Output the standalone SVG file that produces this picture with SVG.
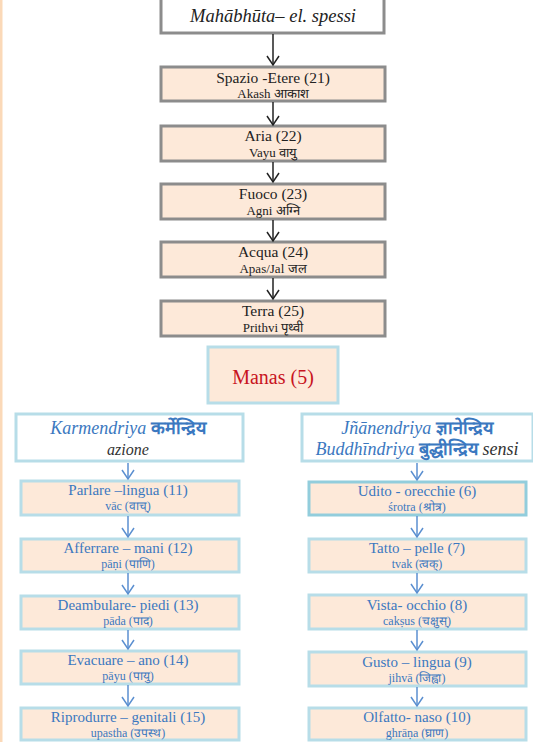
<svg xmlns="http://www.w3.org/2000/svg" width="533" height="742" viewBox="0 0 533 742">
<style>
text{font-family:"Liberation Serif","Times New Roman","DejaVu Serif",serif;text-anchor:middle}
.gbox{fill:#fde9d9;stroke:#8c8c8c;stroke-width:3}
.wbox{fill:#ffffff;stroke:#8c8c8c;stroke-width:3}
.bbox{fill:#fde9d9;stroke:#b7dde8;stroke-width:3}
.bwbox{fill:#ffffff;stroke:#b7dde8;stroke-width:3}
.t1{font-size:15.5px;fill:#222}
.t2{font-size:13px;fill:#222}
.b1{font-size:15px;fill:#3b78c0}
.b2{font-size:12px;fill:#3b78c0}
.ka{stroke:#222;stroke-width:1.5;fill:none}
.ba{stroke:#5b8fd0;stroke-width:1.5;fill:none}
</style>
<defs>
<marker id="mk" markerWidth="14" markerHeight="14" refX="11" refY="7" orient="auto" markerUnits="userSpaceOnUse" viewBox="0 0 14 14">
<path d="M2,1 L11,7 L2,13" fill="none" stroke="#222" stroke-width="1.5"/>
</marker>
<marker id="mb" markerWidth="14" markerHeight="14" refX="11" refY="7" orient="auto" markerUnits="userSpaceOnUse" viewBox="0 0 14 14">
<path d="M2,1 L11,7 L2,13" fill="none" stroke="#5b8fd0" stroke-width="1.5"/>
</marker>
</defs>
<rect x="0" y="0" width="533" height="742" fill="#ffffff"/>
<rect x="0" y="0" width="2.5" height="742" fill="#fbd9b8"/>
<g id="mahabhuta">
<rect class="wbox" x="161" y="-2" width="223" height="35"/>
<text x="273" y="22" style="font-size:18.5px;font-style:italic;fill:#222">Mahābhūta– el. spessi</text>
</g>
<g id="spazio">
<rect class="gbox" x="161" y="67" width="224" height="34"/>
<text class="t1" x="273" y="83">Spazio -Etere (21)</text>
<text class="t2" x="273" y="98">Akash आकाश</text>
</g>
<g id="aria">
<rect class="gbox" x="161" y="126" width="224" height="35"/>
<text class="t1" x="273" y="141">Aria  (22)</text>
<text class="t2" x="273" y="157">Vayu वायु</text>
</g>
<g id="fuoco">
<rect class="gbox" x="161" y="184" width="224" height="35"/>
<text class="t1" x="273" y="199">Fuoco (23)</text>
<text class="t2" x="273" y="215">Agni अग्नि</text>
</g>
<g id="acqua">
<rect class="gbox" x="161" y="242" width="224" height="35"/>
<text class="t1" x="273" y="257">Acqua (24)</text>
<text class="t2" x="273" y="273">Apas/Jal  जल</text>
</g>
<g id="terra">
<rect class="gbox" x="161" y="301" width="224" height="35"/>
<text class="t1" x="273" y="316">Terra (25)</text>
<text class="t2" x="273" y="332">Prithvi  पृथ्वी</text>
</g>
<g id="manas">
<rect class="bbox" x="208" y="347" width="130" height="56"/>
<text x="273" y="384" style="font-size:20px;fill:#c8141e">Manas (5)</text>
</g>
<g id="karmendriya">
<rect class="bwbox" x="16" y="414" width="227" height="47"/>
<text x="128" y="434" style="font-size:18px;fill:#3b78c0"><tspan font-style="italic">Karmendriya</tspan> <tspan font-weight="bold">कर्मेन्द्रिय</tspan></text>
<text x="128" y="455" style="font-size:16px;font-style:italic;fill:#333">azione</text>
</g>
<g id="jnanendriya">
<rect class="bwbox" x="302" y="414" width="231" height="47"/>
<text x="417" y="434" style="font-size:18px;fill:#3b78c0"><tspan font-style="italic">Jñānendriya</tspan> <tspan font-weight="bold">ज्ञानेन्द्रिय</tspan></text>
<text x="417" y="455" style="font-size:18px;fill:#3b78c0"><tspan font-style="italic">Buddhīndriya</tspan> <tspan font-weight="bold">बुद्धीन्द्रिय</tspan> <tspan font-style="italic" fill="#333">sensi</tspan></text>
</g>
<g id="parlare">
<rect class="bbox" x="21" y="481" width="218" height="34"/>
<text class="b1" x="128" y="495">Parlare –lingua  (11)</text>
<text class="b2" x="128" y="510">vāc (वाच्)</text>
</g>
<g id="afferrare">
<rect class="bbox" x="21" y="539" width="218" height="33"/>
<text class="b1" x="128" y="553">Afferrare – mani (12)</text>
<text class="b2" x="128" y="568">pāṇi (पाणि)</text>
</g>
<g id="deambulare">
<rect class="bbox" x="21" y="596" width="218" height="33"/>
<text class="b1" x="128" y="610">Deambulare-  piedi (13)</text>
<text class="b2" x="128" y="625">pāda (पाद)</text>
</g>
<g id="evacuare">
<rect class="bbox" x="21" y="651" width="218" height="33"/>
<text class="b1" x="128" y="665">Evacuare – ano (14)</text>
<text class="b2" x="128" y="680">pāyu (पायु)</text>
</g>
<g id="riprodurre">
<rect class="bbox" x="21" y="708" width="218" height="32"/>
<text class="b1" x="128" y="722">Riprodurre – genitali  (15)</text>
<text class="b2" x="128" y="737">upastha (उपस्थ)</text>
</g>
<g id="udito">
<rect x="309" y="482" width="217" height="33" fill="#fde9d9" stroke="#92cddc" stroke-width="3"/>
<text class="b1" x="417" y="496">Udito - orecchie (6)</text>
<text class="b2" x="417" y="511">śrotra (श्रोत्र)</text>
</g>
<g id="tatto">
<rect class="bbox" x="309" y="539" width="217" height="33"/>
<text class="b1" x="417" y="553">Tatto – pelle  (7)</text>
<text class="b2" x="417" y="568">tvak (त्वक्)</text>
</g>
<g id="vista">
<rect class="bbox" x="309" y="595" width="217" height="34"/>
<text class="b1" x="417" y="610">Vista-  occhio (8)</text>
<text class="b2" x="417" y="625">cakṣus (चक्षुस्)</text>
</g>
<g id="gusto">
<rect class="bbox" x="309" y="652" width="217" height="34"/>
<text class="b1" x="417" y="667">Gusto – lingua  (9)</text>
<text class="b2" x="417" y="682">jihvā (जिह्वा)</text>
</g>
<g id="olfatto">
<rect class="bbox" x="309" y="708" width="217" height="32"/>
<text class="b1" x="417" y="722">Olfatto-  naso (10)</text>
<text class="b2" x="417" y="737">ghrāṇa (घ्राण)</text>
</g>
<g id="connectors">
<line class="ka" x1="273" y1="34" x2="273" y2="65" marker-end="url(#mk)"/>
<line class="ka" x1="273" y1="102" x2="273" y2="125" marker-end="url(#mk)"/>
<line class="ka" x1="273" y1="162" x2="273" y2="182" marker-end="url(#mk)"/>
<line class="ka" x1="273" y1="220" x2="273" y2="241" marker-end="url(#mk)"/>
<line class="ka" x1="273" y1="278" x2="273" y2="299" marker-end="url(#mk)"/>
<line class="ba" x1="128" y1="463" x2="128" y2="479" marker-end="url(#mb)"/>
<line class="ba" x1="128" y1="516" x2="128" y2="537" marker-end="url(#mb)"/>
<line class="ba" x1="128" y1="573" x2="128" y2="594" marker-end="url(#mb)"/>
<line class="ba" x1="128" y1="630" x2="128" y2="649" marker-end="url(#mb)"/>
<line class="ba" x1="128" y1="685" x2="128" y2="706" marker-end="url(#mb)"/>
<line class="ba" x1="417" y1="463" x2="417" y2="480" marker-end="url(#mb)"/>
<line class="ba" x1="417" y1="516" x2="417" y2="537" marker-end="url(#mb)"/>
<line class="ba" x1="417" y1="573" x2="417" y2="593" marker-end="url(#mb)"/>
<line class="ba" x1="417" y1="630" x2="417" y2="650" marker-end="url(#mb)"/>
<line class="ba" x1="417" y1="687" x2="417" y2="706" marker-end="url(#mb)"/>
</g>
</svg>
